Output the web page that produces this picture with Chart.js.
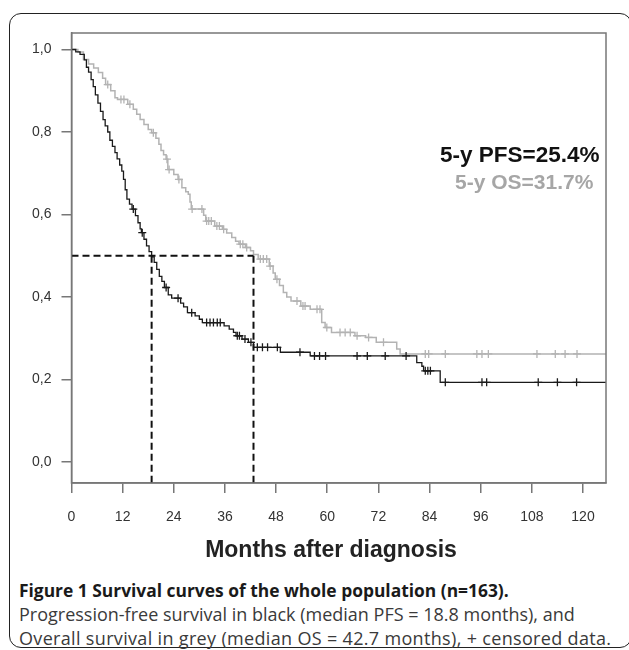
<!DOCTYPE html>
<html>
<head>
<meta charset="utf-8">
<script src="https://cdn.jsdelivr.net/npm/chart.js@4.4.0/dist/chart.umd.min.js"></script>
<style>
  body { margin:0; background:#fff; width:629px; height:650px; overflow:hidden; position:relative; font-family:"Liberation Sans", Arial, sans-serif; }
  #frame { position:absolute; left:9px; top:13px; width:623px; height:635px; box-sizing:border-box; border:1.5px solid #222; border-radius:12px; }
  #wrap { position:absolute; left:0; top:0; width:629px; height:570px; }
  .note { position:absolute; font-weight:bold; line-height:26px; white-space:nowrap; }
  #pfsNote { left:440px; top:142px; color:#111; font-size:22.5px; }
  #osNote { left:455px; top:169px; color:#a6a6a6; font-size:21px; }
  #xTitle { position:absolute; left:131px; width:400px; top:535px; text-align:center; font-weight:bold; font-size:23px; line-height:28px; color:#222; }
  .cap { position:absolute; left:19px; font-family:"Open Sans", sans-serif; font-size:18px; line-height:24px; color:#3a3a3a; white-space:nowrap; }
  #cap1 { top:578px; font-weight:bold; font-size:17.4px; color:#1a1a1a; }
  #cap2 { top:602px; }
  #cap3 { top:626px; letter-spacing:0.33px; }
</style>
</head>
<body>
<div id="frame"></div>
<div id="wrap"><canvas id="km" width="629" height="570"></canvas></div>
<div class="note" id="pfsNote">5-y PFS=25.4%</div>
<div class="note" id="osNote">5-y OS=31.7%</div>
<div id="xTitle">Months after diagnosis</div>
<div class="cap" id="cap1">Figure 1 Survival curves of the whole population (n=163).</div>
<div class="cap" id="cap2">Progression-free survival in black (median PFS = 18.8 months), and</div>
<div class="cap" id="cap3">Overall survival in grey (median OS = 42.7 months), + censored data.</div>
<script>
// months on the x axis, survival proportion on the y axis
var monthTicks = [0, 12, 24, 36, 48, 60, 72, 84, 96, 108, 120];
var survTicks = [0, 0.2, 0.4, 0.6, 0.8, 1.0];

// progression-free survival (black) - step points
var pfsTime = [0, 1.0, 2.0, 3.0, 3.5, 4.0, 4.6, 5.1, 5.6, 6.2, 6.8, 7.4, 7.9, 8.5, 9.0, 9.6, 10.2, 10.7, 11.3, 11.8,
  12.2, 12.6, 13.0, 13.6, 14.2, 15.0, 15.6, 16.1, 16.4, 17.0, 17.6, 18.2, 18.8, 19.4, 20.0, 20.6, 21.2, 21.8,
  22.7, 23.5, 25.6, 26.3, 27.2, 29.0, 30.0, 30.7, 35.8, 37.0, 38.0, 38.6, 40.0, 41.5, 42.7, 49.0, 56.0,
  81.0, 82.2, 82.6, 86.5, 126];
var pfsSurv = [1.0, 0.994, 0.988, 0.975, 0.957, 0.945, 0.927, 0.91, 0.89, 0.87, 0.85, 0.83, 0.815, 0.80, 0.78, 0.765, 0.75, 0.735, 0.72, 0.705,
  0.685, 0.66, 0.637, 0.625, 0.613, 0.597, 0.58, 0.565, 0.556, 0.54, 0.524, 0.51, 0.497, 0.484, 0.467, 0.45, 0.438, 0.423,
  0.405, 0.397, 0.385, 0.376, 0.362, 0.354, 0.346, 0.338, 0.33, 0.322, 0.314, 0.306, 0.298, 0.29, 0.278, 0.266, 0.257,
  0.241, 0.232, 0.221, 0.193, 0.193];
var pfsCensorTime = [14.5, 16.6, 22.2, 25.0, 28.2, 31.7, 32.5, 33.3, 34.2, 34.9, 38.9, 39.4, 40.7, 42.1,
  43.6, 44.8, 46.0, 48.3, 53.6, 57.0, 58.2, 59.6, 67.0, 69.4, 73.6, 78.5, 83.0, 83.6, 84.2,
  87.7, 96.3, 97.4, 109.5, 114.0, 118.5];
var pfsCensorSurv = [0.613, 0.556, 0.423, 0.397, 0.362, 0.338, 0.338, 0.338, 0.338, 0.338, 0.306, 0.306, 0.298, 0.29,
  0.278, 0.278, 0.278, 0.278, 0.266, 0.257, 0.257, 0.257, 0.257, 0.257, 0.257, 0.257, 0.221, 0.221, 0.221,
  0.193, 0.193, 0.193, 0.193, 0.193, 0.193];

// overall survival (grey)
var osTime = [0, 1.5, 2.8, 4.0, 5.2, 6.3, 7.3, 8.0, 9.2, 10.2, 10.8, 13.2, 14.5, 15.3, 16.1, 17.0, 18.0, 18.8, 19.8, 20.5,
  21.0, 21.6, 22.2, 22.6, 24.0, 25.0, 25.9, 26.8, 27.4, 27.8, 28.1, 31.0, 31.5, 33.6, 35.4, 36.4, 37.6, 38.5, 39.3, 40.8,
  42.0, 42.7, 43.8, 46.4, 47.3, 47.8, 48.8, 49.7, 50.5, 51.5, 53.8, 56.0, 58.7, 59.5, 61.0, 66.5, 69.0, 71.5, 76.3, 77.1, 126];
var osSurv = [1.0, 0.994, 0.976, 0.965, 0.955, 0.944, 0.93, 0.915, 0.9, 0.883, 0.879, 0.867, 0.855, 0.843, 0.83, 0.818, 0.806, 0.798, 0.785, 0.77,
  0.755, 0.745, 0.734, 0.709, 0.697, 0.685, 0.665, 0.655, 0.649, 0.63, 0.613, 0.598, 0.584, 0.572, 0.564, 0.555, 0.544, 0.535, 0.528, 0.52,
  0.512, 0.503, 0.492, 0.475, 0.458, 0.443, 0.428, 0.411, 0.4, 0.39, 0.378, 0.37, 0.338, 0.326, 0.314, 0.306, 0.302, 0.29, 0.274, 0.262, 0.262];
var osCensorTime = [8.5, 11.6, 12.3, 13.7, 19.2, 22.4, 22.9, 25.2, 28.3, 30.6, 31.7, 32.2, 32.8, 34.1, 34.7,
  35.7, 39.6, 40.2, 41.1, 44.3, 45.0, 45.8, 46.6, 48.2, 52.9, 54.3, 54.8, 57.6, 58.3, 59.9,
  63.0, 64.2, 65.4, 67.0, 69.7, 73.2, 83.0, 83.8, 87.7, 95.1, 96.3, 97.8, 109.2, 113.5, 115.8, 118.6];
var osCensorSurv = [0.915, 0.879, 0.879, 0.867, 0.798, 0.734, 0.709, 0.685, 0.613, 0.613, 0.584, 0.584, 0.584, 0.572, 0.572,
  0.564, 0.528, 0.528, 0.52, 0.492, 0.492, 0.492, 0.475, 0.443, 0.39, 0.378, 0.378, 0.37, 0.37, 0.326,
  0.314, 0.314, 0.314, 0.306, 0.302, 0.29, 0.262, 0.262, 0.262, 0.262, 0.262, 0.262, 0.262, 0.262, 0.262, 0.262];

var medianPFS = 18.8;
var medianOS = 42.7;
var yMin = -0.051, yMax = 1.04;

function pts(xs, ys) {
  return xs.map(function(t, i) { return {x: t, y: ys[i]}; });
}

// box round the plot area, like SPSS draws it
var plotFrame = {
  id: 'plotFrame',
  afterDatasetsDraw: function(chart) {
    var ctx = chart.ctx, a = chart.chartArea;
    ctx.save();
    ctx.strokeStyle = '#777';
    ctx.lineWidth = 1.5;
    ctx.strokeRect(a.left, a.top, a.right - a.left, a.bottom - a.top);
    ctx.restore();
  }
};

var dash = {borderColor: '#111', borderWidth: 2, borderDash: [7, 4], pointRadius: 0, stepped: false};
var ctx = document.getElementById('km').getContext('2d');
var chart = new Chart(ctx, {
  type: 'line',
  data: {
    datasets: [
      Object.assign({data: [{x: 0, y: 0.5}, {x: medianOS, y: 0.5}]}, dash),
      Object.assign({data: [{x: medianPFS, y: 0.5}, {x: medianPFS, y: yMin}]}, dash),
      Object.assign({data: [{x: medianOS, y: 0.5}, {x: medianOS, y: yMin}]}, dash),
      {data: pts(pfsCensorTime, pfsCensorSurv), showLine: false, pointStyle: 'cross', pointRadius: 4, pointBorderWidth: 1.3, pointBorderColor: '#1a1a1a'},
      {data: pts(pfsTime, pfsSurv), stepped: true, borderColor: '#1a1a1a', borderWidth: 1.3, pointRadius: 0},
      {data: pts(osCensorTime, osCensorSurv), showLine: false, pointStyle: 'cross', pointRadius: 4, pointBorderWidth: 1.3, pointBorderColor: '#b3b3b3'},
      {data: pts(osTime, osSurv), stepped: true, borderColor: '#b3b3b3', borderWidth: 1.5, pointRadius: 0}
    ]
  },
  options: {
    responsive: false,
    animation: false,
    devicePixelRatio: 1,
    layout: {padding: {left: 0, right: 23, top: 33, bottom: 0}},
    plugins: {legend: {display: false}, tooltip: {enabled: false}},
    scales: {
      x: {
        type: 'linear', min: 0, max: 125.4,
        afterBuildTicks: function(s) { s.ticks = monthTicks.map(function(v) { return {value: v}; }); },
        afterFit: function(s) { s.height = 87; },
        ticks: {font: {family: 'Liberation Sans', size: 14}, color: '#333', padding: 16, maxRotation: 0, autoSkip: false},
        grid: {drawOnChartArea: false, drawTicks: true, tickLength: 10, color: '#777', lineWidth: 1.5},
        border: {display: true, color: '#777', width: 1.5}
      },
      y: {
        min: yMin, max: yMax,
        afterBuildTicks: function(s) { s.ticks = survTicks.map(function(v) { return {value: v}; }); },
        afterFit: function(s) { s.width = 71.5; },
        ticks: {font: {family: 'Liberation Sans', size: 14}, color: '#333', padding: 10,
          callback: function(v) { return v.toFixed(1).replace('.', ','); }},
        grid: {drawOnChartArea: false, drawTicks: true, tickLength: 10, color: '#777', lineWidth: 1.5},
        border: {display: true, color: '#777', width: 1.5}
      }
    }
  },
  plugins: [plotFrame]
});
</script>
</body>
</html>
